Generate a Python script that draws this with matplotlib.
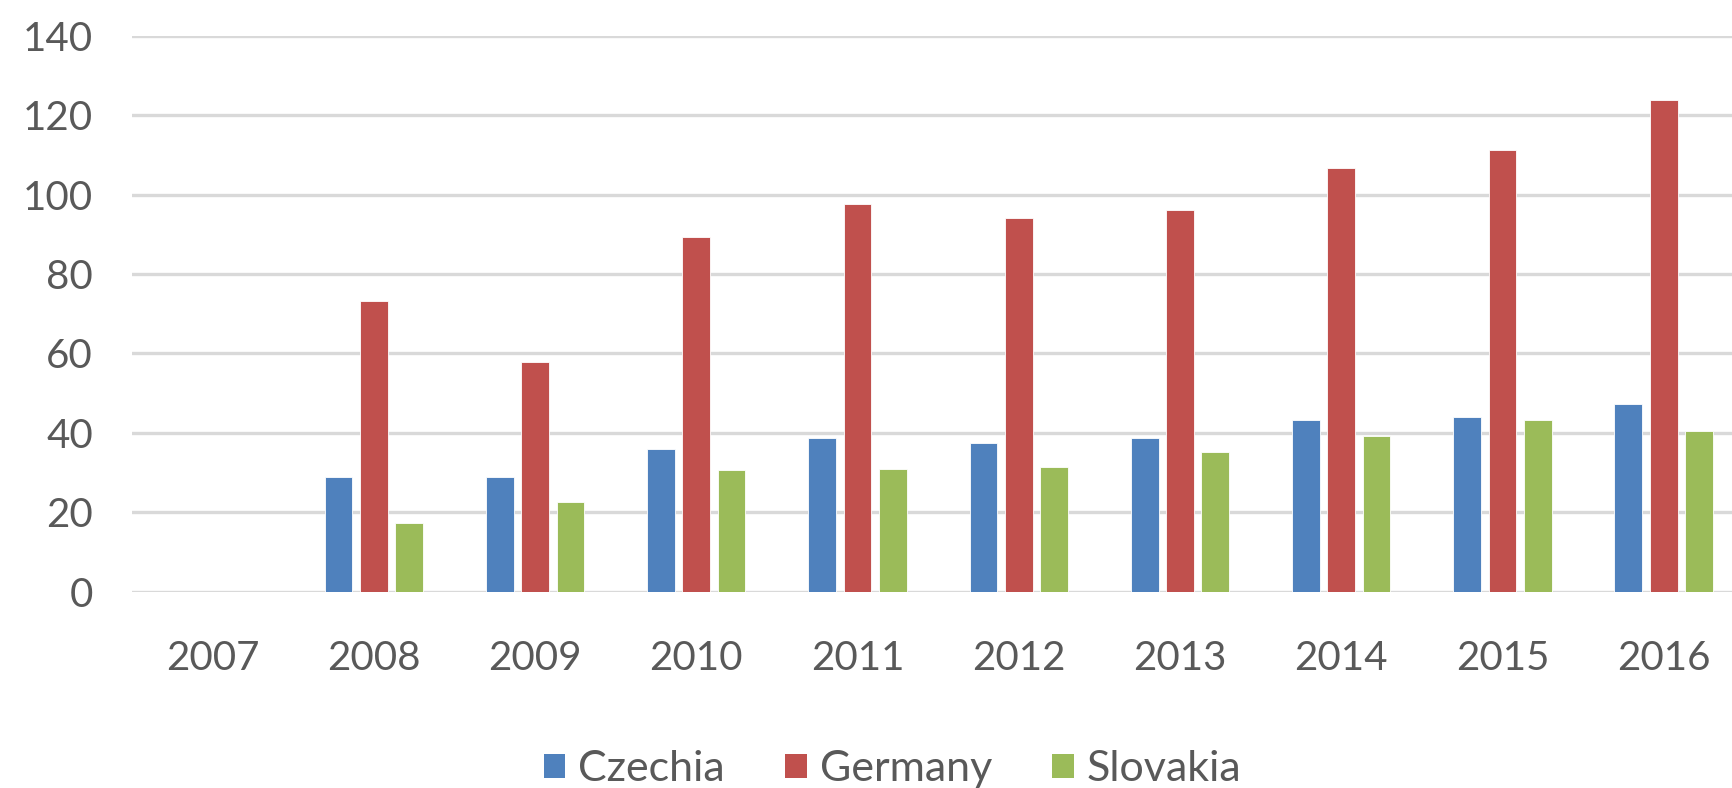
import matplotlib
matplotlib.use("Agg")
import matplotlib.pyplot as plt
import numpy as np
from matplotlib.patches import Patch

# -----------------------------------------
# DATA
# -----------------------------------------
years = ["2007", "2008", "2009", "2010", "2011", "2012", "2013", "2014", "2015", "2016"]

czechia = [0, 28.8, 28.8, 36.0, 38.7, 37.4, 38.6, 43.2, 43.9, 47.2]
germany = [0, 73.3, 57.9, 89.2, 97.7, 94.2, 96.2, 106.8, 111.3, 123.9]
slovakia = [0, 17.4, 22.7, 30.7, 30.8, 31.3, 35.3, 39.2, 43.3, 40.5]

series_names = ["Czechia", "Germany", "Slovakia"]
colors = ["#4F81BD", "#C0504D", "#9BBB59"]

# -----------------------------------------
# FIGURE
# -----------------------------------------
plt.rcParams["font.family"] = ["Lato", "DejaVu Sans"]

fig = plt.figure(figsize=(17.33, 7.88), dpi=100)
ax = fig.add_axes([132 / 1733, 1 - 591.7 / 788, 1 - 132 / 1733, (591.7 - 35.7) / 788])

x = np.arange(len(years))
offset = 0.219
width = 0.172

for i, (vals, col) in enumerate(zip([czechia, germany, slovakia], colors)):
    ax.bar(x + (i - 1) * offset, vals, width=width, color=col,
           edgecolor="white", linewidth=0.6, zorder=3)

ax.set_ylim(0, 140)
ax.set_xlim(-0.5, 9.43)
ax.set_yticks(range(0, 141, 20))
ax.set_xticks(x)
ax.set_xticklabels(years)

ax.yaxis.grid(True, color="#D9D9D9", linewidth=2.4, zorder=0)
ax.set_axisbelow(True)
for s in ax.spines.values():
    s.set_visible(False)

ax.tick_params(axis="both", length=0, labelsize=29, labelcolor="#595959")
ax.tick_params(axis="y", pad=28)
ax.tick_params(axis="x", pad=35)

handles = [Patch(facecolor=c, edgecolor="none") for c in colors]
fig.legend(handles, series_names, loc="center", bbox_to_anchor=(0.515, 0.024),
           ncol=3, frameon=False, fontsize=31, labelcolor="#595959",
           handlelength=0.5, handleheight=0.5, handletextpad=0.3,
           columnspacing=1.4)

fig.savefig("out.png", dpi=100)
